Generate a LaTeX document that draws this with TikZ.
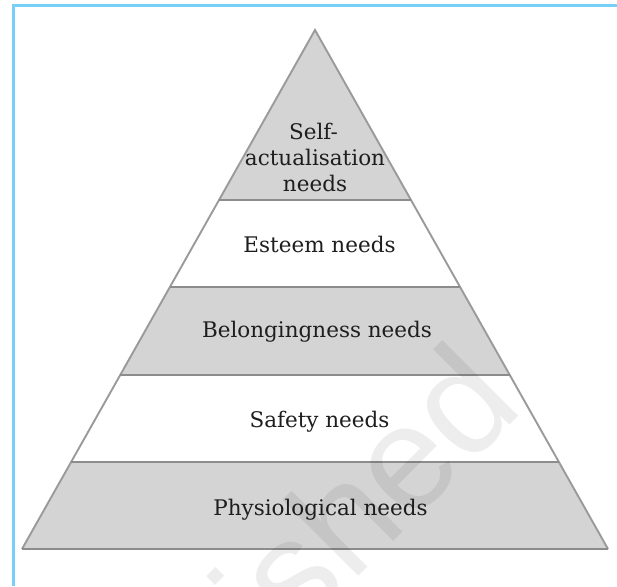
\documentclass[tikz,border=0pt]{standalone}
\usepackage{fontspec}
\setmainfont{DejaVu Serif}
\newfontfamily\wmfont{Liberation Sans}
\definecolor{framebl}{HTML}{78D0F6}
\definecolor{layergray}{HTML}{D4D4D4}
\definecolor{edgegray}{HTML}{9A9A9A}
\definecolor{sepgray}{HTML}{8C8C8C}
\definecolor{txt}{HTML}{1E1E1E}
\tikzset{
  layerfill/.style={fill=layergray, draw=none},
  sideedge/.style={draw=edgegray, line width=1.9pt, line join=miter},
  sepline/.style={draw=sepgray, line width=2.3pt},
  lab/.style={text=txt, font=\fontsize{21.5}{26}\selectfont, inner sep=0pt, anchor=base},
  watermark/.style={text=black, opacity=0.07, font=\wmfont\fontsize{148}{148}\selectfont, inner sep=0pt, rotate=45, anchor=base east}
}
\begin{document}
\begin{tikzpicture}[x=1pt,y=-1pt]
\useasboundingbox (0,0) rectangle (617,586);
\fill[white] (0,0) rectangle (617,586);
\clip (0,0) rectangle (617,586);
% corner points
\coordinate (apex) at (315,30);
\coordinate (l1) at (219.0,200); \coordinate (r1) at (411.0,200);
\coordinate (l2) at (169.9,287); \coordinate (r2) at (460.1,287);
\coordinate (l3) at (120.2,375); \coordinate (r3) at (509.8,375);
\coordinate (l4) at (71.1,462);  \coordinate (r4) at (558.9,462);
\coordinate (l5) at (22,549);    \coordinate (r5) at (608,549);
% layers
\path[layerfill] (apex) -- (r1) -- (l1) -- cycle;
\path[layerfill] (l2) -- (r2) -- (r3) -- (l3) -- cycle;
\path[layerfill] (l4) -- (r4) -- (r5) -- (l5) -- cycle;
% outline
\draw[sideedge] (l5) -- (apex) -- (r5);
\draw[sepline] (l1) -- (r1);
\draw[sepline] (l2) -- (r2);
\draw[sepline] (l3) -- (r3);
\draw[sepline] (l4) -- (r4);
\draw[sepline] (l5) -- (r5);
% labels
\node[lab] (self1) at (313.5,139) {Self-};
\node[lab] (self2) at (315,165) {actualisation};
\node[lab] (self3) at (315,191) {needs};
\node[lab] (esteem) at (319.5,252) {Esteem needs};
\node[lab] (belong) at (317,337) {Belongingness needs};
\node[lab] (safety) at (319.5,427) {Safety needs};
\node[lab] (physio) at (320.5,515) {Physiological needs};
% watermark
\node[watermark] (wm) at (526,409) {published};
% frame
\draw[framebl, line width=3pt] (13,586) -- (13,6) -- (617,6);
\end{tikzpicture}
\end{document}
